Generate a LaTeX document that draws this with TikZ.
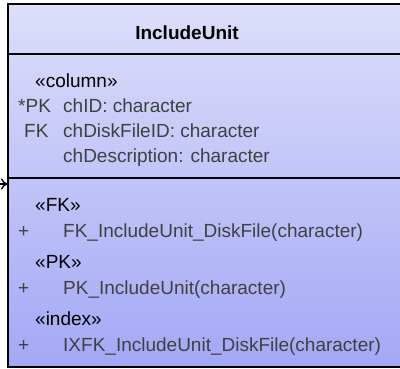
\documentclass[tikz,border=0pt]{standalone}
\usepackage{fontspec}
\setmainfont{Liberation Sans}
\usetikzlibrary{arrows.meta}
\definecolor{boxtop}{HTML}{DDDEFA}
\definecolor{boxbot}{HTML}{A3A8F5}
\definecolor{attrtext}{HTML}{404040}
\tikzset{
  tablebox/.style={draw=black, line width=2pt, top color=boxtop, bottom color=boxbot},
  divider/.style={draw=black, line width=2pt},
  txt/.style={anchor=base west, inner sep=0pt, font=\fontsize{19}{23}\selectfont},
  stereo/.style={txt, text=black},
  attr/.style={txt, text=attrtext},
  title/.style={anchor=base, inner sep=0pt, font=\fontsize{19}{23}\selectfont\bfseries},
  link/.style={draw=black, line width=1.3pt, -{To[length=7pt,width=11pt]}}
}
\begin{document}
\begin{tikzpicture}[x=1pt,y=-1pt]
  \useasboundingbox (0,0) rectangle (400,369);
  % table body with its compartments
  \path[tablebox] (8,4) rectangle (430,367);
  \coordinate (hdr-l) at (8,54);
  \coordinate (hdr-r) at (430,54);
  \coordinate (ops-l) at (8,178);
  \coordinate (ops-r) at (430,178);
  \draw[divider] (hdr-l) -- (hdr-r);
  \draw[divider] (ops-l) -- (ops-r);
  % title
  \node[title] (name) at (187,40) {IncludeUnit};
  % columns
  \node[stereo] (colst) at (35,88) {«column»};
  \node[attr] (k1) at (18,113) {*PK};
  \node[attr] (c1) at (63,113) {chID: character};
  \node[attr] (k2) at (24,138) {FK};
  \node[attr] (c2) at (63,138) {chDiskFileID: character};
  \node[attr] (c3) at (63,163) {chDescription: character};
  % operations
  \node[stereo] (fkst) at (35,212) {«FK»};
  \node[attr] (p1) at (18,238) {+};
  \node[attr] (o1) at (63,238) {FK\_IncludeUnit\_DiskFile(character)};
  \node[stereo] (pkst) at (35,269) {«PK»};
  \node[attr] (p2) at (18,295) {+};
  \node[attr] (o2) at (63,295) {PK\_IncludeUnit(character)};
  \node[stereo] (ixst) at (35,326) {«index»};
  \node[attr] (p3) at (18,352) {+};
  \node[attr] (o3) at (63,352) {IXFK\_IncludeUnit\_DiskFile(character)};
  % incoming association
  \coordinate (src) at (-20,184);
  \coordinate (dst) at (8,184);
  \draw[link] (src) -- (dst);
\end{tikzpicture}
\end{document}
